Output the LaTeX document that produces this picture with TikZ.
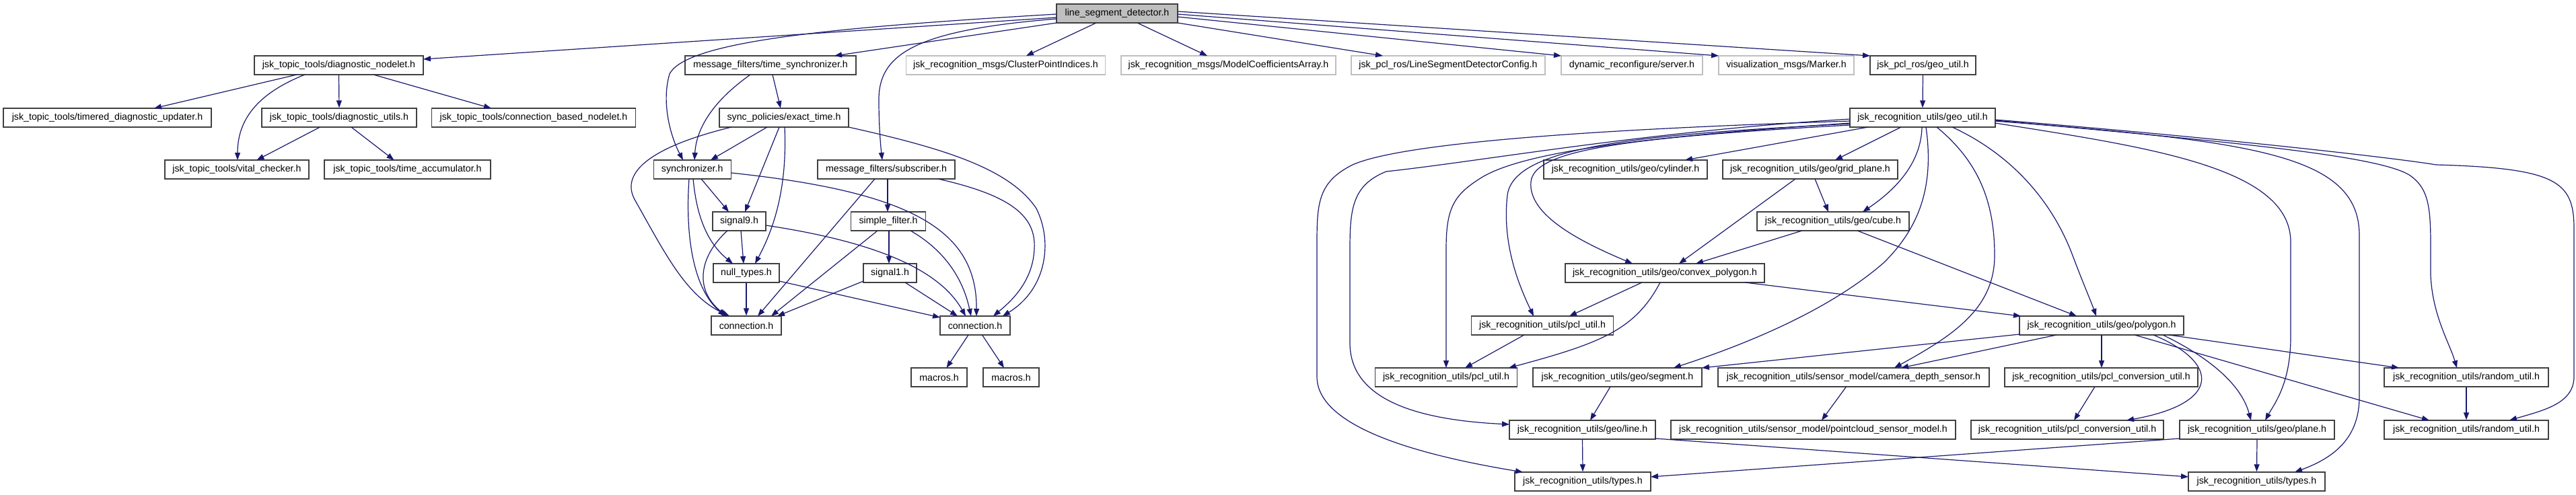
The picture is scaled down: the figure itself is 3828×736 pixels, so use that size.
\documentclass[tikz,border=0pt]{standalone}
\usepackage{fontspec}
\setmainfont{Liberation Sans}
\usetikzlibrary{arrows.meta,calc}
\definecolor{navy}{HTML}{191970}
\begin{document}
\begin{tikzpicture}[x=1pt,y=-1pt,
  nbox/.style={draw=black!75, line width=1.4pt, fill=white, minimum height=28pt, inner sep=0pt, font=\fontsize{14.2}{17}\selectfont, text=black},
  gbox/.style={nbox, draw=black!25},
  rbox/.style={nbox, fill=black!25},
  edge/.style={draw=navy, line width=1.2pt, -{Triangle[length=11pt,width=8pt]}}]
\fill[white] (0,0) rectangle (3828,736);
\useasboundingbox (0,0) rectangle (3828,736);
% row 0
\node[rbox, minimum width=180pt] (lsd) at (1660,20) {line\_segment\_detector.h};
% row 1
\node[nbox, minimum width=251pt] (dnod) at (503.5,97) {jsk\_topic\_tools/diagnostic\_nodelet.h};
\node[nbox, minimum width=254pt] (tsync) at (1145,97) {message\_filters/time\_synchronizer.h};
\node[gbox, minimum width=296pt] (clust) at (1494.5,97) {jsk\_recognition\_msgs/ClusterPointIndices.h};
\node[gbox, minimum width=319pt] (mcoef) at (1825.5,97) {jsk\_recognition\_msgs/ModelCoefficientsArray.h};
\node[gbox, minimum width=288pt] (lsdcfg) at (2152,97) {jsk\_pcl\_ros/LineSegmentDetectorConfig.h};
\node[gbox, minimum width=210pt] (dynrec) at (2425,97) {dynamic\_reconfigure/server.h};
\node[gbox, minimum width=201pt] (marker) at (2654.5,97) {visualization\_msgs/Marker.h};
\node[nbox, minimum width=157pt] (pclgeo) at (2857.5,97) {jsk\_pcl\_ros/geo\_util.h};
% row 2
\node[nbox, minimum width=309pt] (timered) at (159.5,175) {jsk\_topic\_tools/timered\_diagnostic\_updater.h};
\node[nbox, minimum width=230pt] (dutils) at (504,175) {jsk\_topic\_tools/diagnostic\_utils.h};
\node[nbox, minimum width=303pt] (cbn) at (793,175) {jsk\_topic\_tools/connection\_based\_nodelet.h};
\node[nbox, minimum width=192pt] (exact) at (1165,175) {sync\_policies/exact\_time.h};
\node[nbox, minimum width=216pt] (rgeo) at (2857,175) {jsk\_recognition\_utils/geo\_util.h};
% row 3
\node[nbox, minimum width=214pt] (vital) at (352,252) {jsk\_topic\_tools/vital\_checker.h};
\node[nbox, minimum width=247pt] (tacc) at (605.5,252) {jsk\_topic\_tools/time\_accumulator.h};
\node[nbox, minimum width=115pt] (synch) at (1028.75,252) {synchronizer.h};
\node[nbox, minimum width=204pt] (subs) at (1317,252) {message\_filters/subscriber.h};
\node[nbox, minimum width=243pt] (cyl) at (2415.5,252) {jsk\_recognition\_utils/geo/cylinder.h};
\node[nbox, minimum width=260pt] (grid) at (2690,252) {jsk\_recognition\_utils/geo/grid\_plane.h};
% row 4
\node[nbox, minimum width=79pt] (sig9) at (1098.5,329) {signal9.h};
\node[nbox, minimum width=111pt] (sfilt) at (1320,329) {simple\_filter.h};
\node[nbox, minimum width=226pt] (cube) at (2724,329) {jsk\_recognition\_utils/geo/cube.h};
% row 5
\node[nbox, minimum width=98pt] (nullt) at (1109,406) {null\_types.h};
\node[nbox, minimum width=79pt] (sig1) at (1322.5,406) {signal1.h};
\node[nbox, minimum width=296pt] (convex) at (2474,406) {jsk\_recognition\_utils/geo/convex\_polygon.h};
% row 6
\node[nbox, minimum width=104pt] (conn1) at (1109,484) {connection.h};
\node[nbox, minimum width=104pt] (conn2) at (1449,484) {connection.h};
\node[nbox, minimum width=211pt] (pclu1) at (2292,484) {jsk\_recognition\_utils/pcl\_util.h};
\node[nbox, minimum width=244pt] (poly) at (3123,484) {jsk\_recognition\_utils/geo/polygon.h};
% row 7
\node[nbox, minimum width=83pt] (mac1) at (1395.5,561) {macros.h};
\node[nbox, minimum width=83pt] (mac2) at (1502.5,561) {macros.h};
\node[nbox, minimum width=211pt] (pclu2) at (2149,561) {jsk\_recognition\_utils/pcl\_util.h};
\node[nbox, minimum width=251pt] (seg) at (2403.5,561) {jsk\_recognition\_utils/geo/segment.h};
\node[nbox, minimum width=403pt] (camd) at (2754.5,561) {jsk\_recognition\_utils/sensor\_model/camera\_depth\_sensor.h};
\node[nbox, minimum width=287pt] (pconv1) at (3122.5,561) {jsk\_recognition\_utils/pcl\_conversion\_util.h};
\node[nbox, minimum width=244pt] (rand1) at (3665,561) {jsk\_recognition\_utils/random\_util.h};
% row 8
\node[nbox, minimum width=217pt] (line) at (2351.5,639) {jsk\_recognition\_utils/geo/line.h};
\node[nbox, minimum width=423pt] (pcsm) at (2694.5,639) {jsk\_recognition\_utils/sensor\_model/pointcloud\_sensor\_model.h};
\node[nbox, minimum width=286pt] (pconv2) at (3072,639) {jsk\_recognition\_utils/pcl\_conversion\_util.h};
\node[nbox, minimum width=230pt] (plane) at (3354,639) {jsk\_recognition\_utils/geo/plane.h};
\node[nbox, minimum width=244pt] (rand2) at (3665,639) {jsk\_recognition\_utils/random\_util.h};
% row 9
\node[nbox, minimum width=202pt] (types1) at (2352,716) {jsk\_recognition\_utils/types.h};
\node[nbox, minimum width=203pt] (types2) at (3353.5,716) {jsk\_recognition\_utils/types.h};

% ---- edges from line_segment_detector
\draw[edge] ($(lsd)+(-90,6)$) -- ($(dnod)+(125.5,-9)$);
\draw[edge] ($(lsd)+(-90,1)$) .. controls (1250,40) and (1020,60) .. (995,110) .. controls (983,150) and (995,200) .. ($(synch)+(-13.75,-14)$);
\draw[edge] ($(lsd)+(-90,14)$) -- ($(tsync)+(95,-14)$);
\draw[edge] ($(lsd)+(-90,8)$) .. controls (1360,45) and (1305,80) .. (1306,150) .. controls (1306,190) and (1309,220) .. ($(subs)+(-6,-14)$);
\draw[edge] ($(lsd)+(-31,14)$) -- ($(clust)+(30.5,-14)$);
\draw[edge] ($(lsd)+(30,14)$) -- ($(mcoef)+(-31.5,-14)$);
\draw[edge] ($(lsd)+(90,14)$) -- ($(lsdcfg)+(-97,-14)$);
\draw[edge] ($(lsd)+(90,5)$) -- ($(dynrec)+(-105,-14)$);
\draw[edge] ($(lsd)+(90,1)$) -- ($(marker)+(-100.5,-14)$);
\draw[edge] ($(lsd)+(90,-3)$) -- ($(pclgeo)+(-78.5,-14)$);
% ---- jsk_topic_tools
\draw[edge] ($(dnod)+(-62.5,14)$) -- ($(timered)+(69.5,-14)$);
\draw[edge] ($(dnod)+(-50.5,14)$) .. controls (380,140) and (353,180) .. ($(vital)+(1,-14)$);
\draw[edge] (dnod.south) -- (dutils.north);
\draw[edge] ($(dnod)+(51.5,14)$) -- ($(cbn)+(-63,-14)$);
\draw[edge] ($(dutils)+(-28.5,14)$) -- ($(vital)+(29.5,-14)$);
\draw[edge] ($(dutils)+(18,14)$) -- ($(tacc)+(-20,-14)$);
% ---- message_filters
\draw[edge] ($(tsync)+(-30,14)$) .. controls (1060,150) and (1035,190) .. ($(synch)+(3.25,-14)$);
\draw[edge] ($(tsync)+(3,14)$) -- ($(exact)+(-5,-14)$);
\draw[edge] ($(exact)+(-25,14)$) -- ($(synch)+(27.25,-14)$);
\draw[edge] ($(exact)+(-7,14)$) -- ($(sig9)+(8.5,-14)$);
\draw[edge] ($(exact)+(1,14)$) .. controls (1170,280) and (1150,340) .. ($(nullt)+(13,-14)$);
\draw[edge] ($(exact)+(-78,14)$) .. controls (960,220) and (920,260) .. (945,300) .. controls (990,380) and (1020,440) .. ($(conn1)+(-25,-14)$);
\draw[edge] ($(exact)+(96,14)$) .. controls (1400,220) and (1500,250) .. (1540,310) .. controls (1565,360) and (1555,430) .. ($(conn2)+(41,-14)$);
\draw[edge] ($(synch)+(13.25,14)$) -- ($(sig9)+(-15.5,-14)$);
\draw[edge] ($(synch)+(1.25,14)$) .. controls (1035,320) and (1050,360) .. ($(nullt)+(-20,-14)$);
\draw[edge] ($(synch)+(-4.75,14)$) .. controls (1018,350) and (1030,430) .. ($(conn1)+(-31,-14)$);
\draw[edge] ($(synch)+(57.5,5)$) .. controls (1350,285) and (1452,340) .. ($(conn2)+(2,-14)$);
\draw[edge] ($(sig9)+(2.5,14)$) -- ($(nullt)+(-4,-14)$);
\draw[edge] ($(sig9)+(-17.5,14)$) .. controls (1040,380) and (1030,430) .. ($(conn1)+(-29,-14)$);
\draw[edge] ($(sig9)+(39.5,6)$) .. controls (1270,355) and (1390,390) .. ($(conn2)+(-14,-14)$);
\draw[edge] ($(subs)+(2,14)$) -- ($(sfilt)+(-1,-14)$);
\draw[edge] ($(subs)+(-17,14)$) -- ($(conn1)+(17,-14)$);
\draw[edge] ($(subs)+(77,14)$) .. controls (1500,290) and (1540,320) .. (1537,370) .. controls (1535,420) and (1500,450) .. ($(conn2)+(27,-14)$);
\draw[edge] ($(sfilt)+(1,14)$) -- ($(sig1)+(-1.5,-14)$);
\draw[edge] ($(sfilt)+(-16,14)$) -- ($(conn1)+(37,-14)$);
\draw[edge] ($(sfilt)+(33,14)$) .. controls (1400,370) and (1430,410) .. ($(conn2)+(-6,-14)$);
\draw[edge] (nullt.south) -- (conn1.north);
\draw[edge] ($(nullt)+(49,12)$) -- ($(conn2)+(-52,-12)$);
\draw[edge] ($(sig1)+(-39.5,12)$) -- ($(conn1)+(46,-14)$);
\draw[edge] ($(sig1)+(22.5,14)$) -- ($(conn2)+(-26,-14)$);
\draw[edge] ($(conn2)+(-10,14)$) -- ($(mac1)+(11,-14)$);
\draw[edge] ($(conn2)+(10.5,14)$) -- ($(mac2)+(-10.5,-14)$);
% ---- jsk_recognition_utils
\draw[edge] (pclgeo.south) -- (rgeo.north);
\draw[edge] ($(rgeo)+(-32,14)$) -- ($(grid)+(37,-14)$);
\draw[edge] ($(rgeo)+(-1,14)$) .. controls (2855,240) and (2820,280) .. ($(cube)+(44,-14)$);
\draw[edge] ($(rgeo)+(5,14)$) .. controls (2875,280) and (2850,340) .. (2800,390) .. controls (2720,460) and (2600,510) .. ($(seg)+(83.5,-14)$);
\draw[edge] ($(rgeo)+(21,14)$) .. controls (2940,240) and (2964,300) .. (2964,380) .. controls (2964,460) and (2900,500) .. ($(camd)+(60.5,-14)$);
\draw[edge] ($(rgeo)+(44,14)$) .. controls (2990,230) and (3050,300) .. (3080,380) .. controls (3095,420) and (3108,450) .. ($(poly)+(-8,-14)$);
\draw[edge] ($(rgeo)+(-81,14)$) -- ($(cyl)+(88.5,-14)$);
\draw[edge] ($(rgeo)+(-108,5)$) .. controls (2500,188) and (2100,205) .. (2010,245) .. controls (1960,270) and (1957,300) .. (1957,360) -- (1957,560) .. controls (1957,640) and (2130,680) .. ($(types1)+(-89,-14)$);
\draw[edge] ($(rgeo)+(-108,2)$) .. controls (2450,195) and (2200,240) .. (2060,255) .. controls (2010,275) and (2006,310) .. (2006,370) -- (2006,510) .. controls (2006,600) and (2120,625) .. ($(line)+(-108.5,-8)$);
\draw[edge] ($(rgeo)+(-108,8)$) .. controls (2500,200) and (2270,220) .. (2200,265) .. controls (2160,290) and (2149,310) .. (2149,370) -- ($(pclu2)+(0,-14)$);
\draw[edge] ($(rgeo)+(-108,9)$) .. controls (2450,200) and (2250,215) .. (2240,290) .. controls (2232,360) and (2255,420) .. ($(pclu1)+(-13,-14)$);
\draw[edge] ($(rgeo)+(-108,11)$) .. controls (2400,205) and (2280,225) .. (2275,270) .. controls (2270,320) and (2350,360) .. ($(convex)+(-48,-14)$);
\draw[edge] ($(rgeo)+(108,8)$) .. controls (3200,220) and (3404,250) .. (3404,360) -- (3404,500) .. controls (3404,570) and (3380,600) .. ($(plane)+(12,-14)$);
\draw[edge] ($(rgeo)+(108,5)$) .. controls (3350,210) and (3506,230) .. (3506,350) -- (3506,590) .. controls (3506,650) and (3470,680) .. ($(types2)+(56.5,-14)$);
\draw[edge] ($(rgeo)+(108,4)$) .. controls (3300,210) and (3530,230) .. (3580,260) .. controls (3610,280) and (3612,310) .. (3612,370) -- (3612,410) .. controls (3615,470) and (3640,510) .. ($(rand1)+(-14,-14)$);
\draw[edge] ($(rgeo)+(108,3)$) .. controls (3300,205) and (3560,235) .. (3620,245) .. controls (3800,250) and (3825,270) .. (3825,340) -- (3825,560) .. controls (3825,600) and (3780,610) .. ($(rand2)+(64,-14)$);
\draw[edge] ($(grid)+(7,14)$) -- ($(cube)+(-7,-14)$);
\draw[edge] ($(grid)+(-22,14)$) -- ($(convex)+(21,-14)$);
\draw[edge] ($(cube)+(-46,14)$) -- ($(convex)+(46,-14)$);
\draw[edge] ($(cube)+(36,14)$) -- ($(poly)+(-37,-14)$);
\draw[edge] ($(convex)+(-34,14)$) -- ($(pclu1)+(40,-14)$);
\draw[edge] ($(convex)+(-7,14)$) .. controls (2430,490) and (2380,510) .. ($(pclu2)+(93,-14)$);
\draw[edge] ($(convex)+(119,14)$) -- ($(poly)+(-120,-14)$);
\draw[edge] ($(pclu1)+(-27,14)$) -- ($(pclu2)+(28,-14)$);
\draw[edge] ($(poly)+(-122,13)$) -- ($(seg)+(125.5,-14)$);
\draw[edge] ($(poly)+(-67,14)$) -- ($(camd)+(70.5,-14)$);
\draw[edge] ($(poly)+(0,14)$) -- ($(pconv1)+(0.5,-14)$);
\draw[edge] ($(poly)+(100,14)$) -- ($(rand1)+(-100,-14)$);
\draw[edge] ($(poly)+(49,14)$) -- ($(rand2)+(-55,-14)$);
\draw[edge] ($(poly)+(91,14)$) .. controls (3280,530) and (3330,570) .. ($(plane)+(-9,-14)$);
\draw[edge] ($(poly)+(77,14)$) .. controls (3300,540) and (3300,600) .. ($(pconv2)+(88,-14)$);
\draw[edge] ($(camd)+(-11,14)$) -- ($(pcsm)+(12.5,-14)$);
\draw[edge] ($(pconv1)+(-9.5,14)$) -- ($(pconv2)+(10,-14)$);
\draw[edge] ($(seg)+(-10.5,14)$) -- ($(line)+(11.5,-14)$);
\draw[edge] (line.south) -- (types1.north);
\draw[edge] ($(line)+(108.5,13)$) -- ($(types2)+(-101.5,-7)$);
\draw[edge] (plane.south) -- (types2.north);
\draw[edge] ($(plane)+(-115,13)$) -- ($(types1)+(101,-7)$);
\draw[edge] (rand1.south) -- (rand2.north);
\end{tikzpicture}
\end{document}
